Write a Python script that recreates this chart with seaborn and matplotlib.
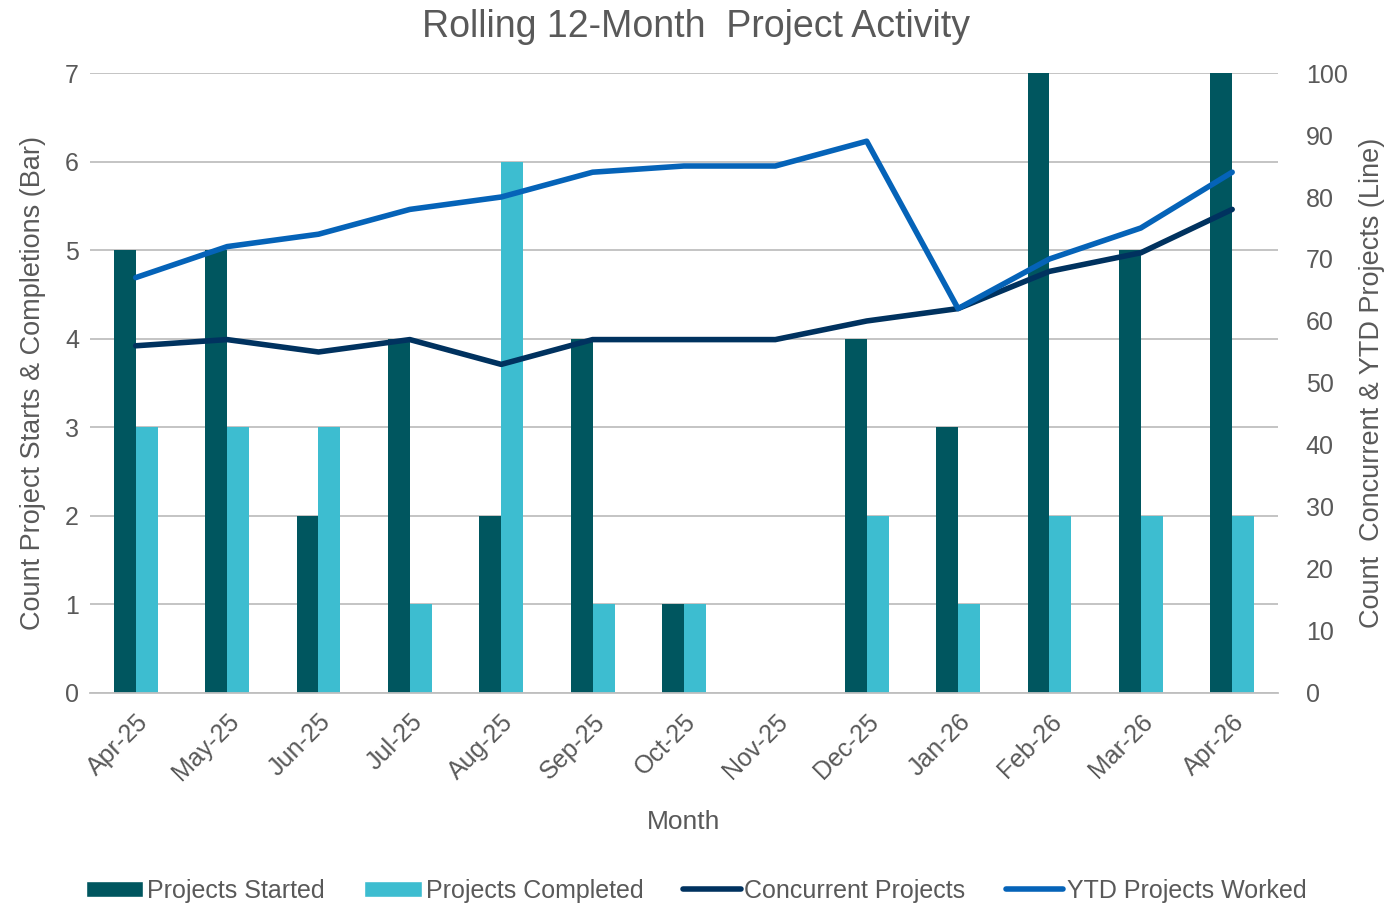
import pandas as pd
import matplotlib.pyplot as plt
import seaborn as sns
from matplotlib.patches import Patch
from matplotlib.lines import Line2D

# Monthly values
months = ["Apr-25", "May-25", "Jun-25", "Jul-25", "Aug-25", "Sep-25", "Oct-25",
          "Nov-25", "Dec-25", "Jan-26", "Feb-26", "Mar-26", "Apr-26"]
projects_started = [5, 5, 2, 4, 2, 4, 1, 0, 4, 3, 7, 5, 7]
projects_completed = [3, 3, 3, 1, 6, 1, 1, 0, 2, 1, 2, 2, 2]
concurrent_projects = [56, 57, 55, 57, 53, 57, 57, 57, 60, 62, 68, 71, 78]
ytd_projects_worked = [67, 72, 74, 78, 80, 84, 85, 85, 89, 62, 70, 75, 84]

col_started = "#00565F"
col_completed = "#3DBDD0"
col_concurrent = "#00325F"
col_ytd = "#0563B8"
text_col = "#595959"

sns.set_theme(style="white")
plt.rcParams['font.family'] = ['Liberation Sans', 'DejaVu Sans']

bars = pd.DataFrame({
    "Month": months * 2,
    "Count": projects_started + projects_completed,
    "Series": ["Projects Started"] * len(months) + ["Projects Completed"] * len(months),
})

fig = plt.figure(figsize=(13.92, 9.07), dpi=100)
ax = fig.add_axes([0.0647, 0.236, 0.8533, 0.6835])

sns.barplot(data=bars, x="Month", y="Count", hue="Series",
            palette=[col_started, col_completed], width=0.48,
            saturation=1, linewidth=0, ax=ax, legend=False, zorder=2)

ax.set_ylim(0, 7)
ax.set_yticks(range(0, 8))
ax.set_xlim(-0.5, len(months) - 0.5)
ax.yaxis.grid(True, color="#BFBFBF", linewidth=1.3, zorder=0)
ax.set_axisbelow(True)
for s in ["top", "left", "right"]:
    ax.spines[s].set_visible(False)
ax.spines["bottom"].set_color("#BFBFBF")
ax.spines["bottom"].set_linewidth(1.3)
ax.tick_params(axis="y", length=0, labelsize=18, colors=text_col, pad=8)
ax.tick_params(axis="x", length=0, labelsize=18, colors=text_col, pad=12)
plt.setp(ax.get_xticklabels(), rotation=45, ha="right", rotation_mode="anchor")
ax.set_xlabel("Month", fontsize=19, color=text_col, labelpad=18)
ax.set_ylabel("Count Project Starts & Completions (Bar)", fontsize=19.5,
              color=text_col, labelpad=14)

ax2 = ax.twinx()
xs = list(range(len(months)))
sns.lineplot(x=xs, y=concurrent_projects, color=col_concurrent, linewidth=4,
             ax=ax2, zorder=3)
sns.lineplot(x=xs, y=ytd_projects_worked, color=col_ytd, linewidth=4,
             ax=ax2, zorder=4)
ax2.set_ylim(0, 100)
ax2.set_yticks(range(0, 101, 10))
ax2.set_xlim(-0.5, len(months) - 0.5)
for s in ["top", "left", "right", "bottom"]:
    ax2.spines[s].set_visible(False)
ax2.tick_params(axis="y", length=0, labelsize=18, colors=text_col, pad=20)
ax2.set_ylabel("Count  Concurrent & YTD Projects (Line)", fontsize=19.5,
               color=text_col, labelpad=8)

fig.suptitle("Rolling 12-Month  Project Activity", fontsize=27, color=text_col,
             y=0.99)

handles = [
    Patch(facecolor=col_started, label="Projects Started"),
    Patch(facecolor=col_completed, label="Projects Completed"),
    Line2D([0], [0], color=col_concurrent, linewidth=4, label="Concurrent Projects"),
    Line2D([0], [0], color=col_ytd, linewidth=4, label="YTD Projects Worked"),
]
leg = fig.legend(handles=handles, loc="lower center", ncol=4, frameon=False,
                 fontsize=18, bbox_to_anchor=(0.5, -0.02), handlelength=2.3,
                 handleheight=0.6, handletextpad=0.15, columnspacing=1.6)
for t in leg.get_texts():
    t.set_color(text_col)

fig.savefig("out.png", dpi=100)
